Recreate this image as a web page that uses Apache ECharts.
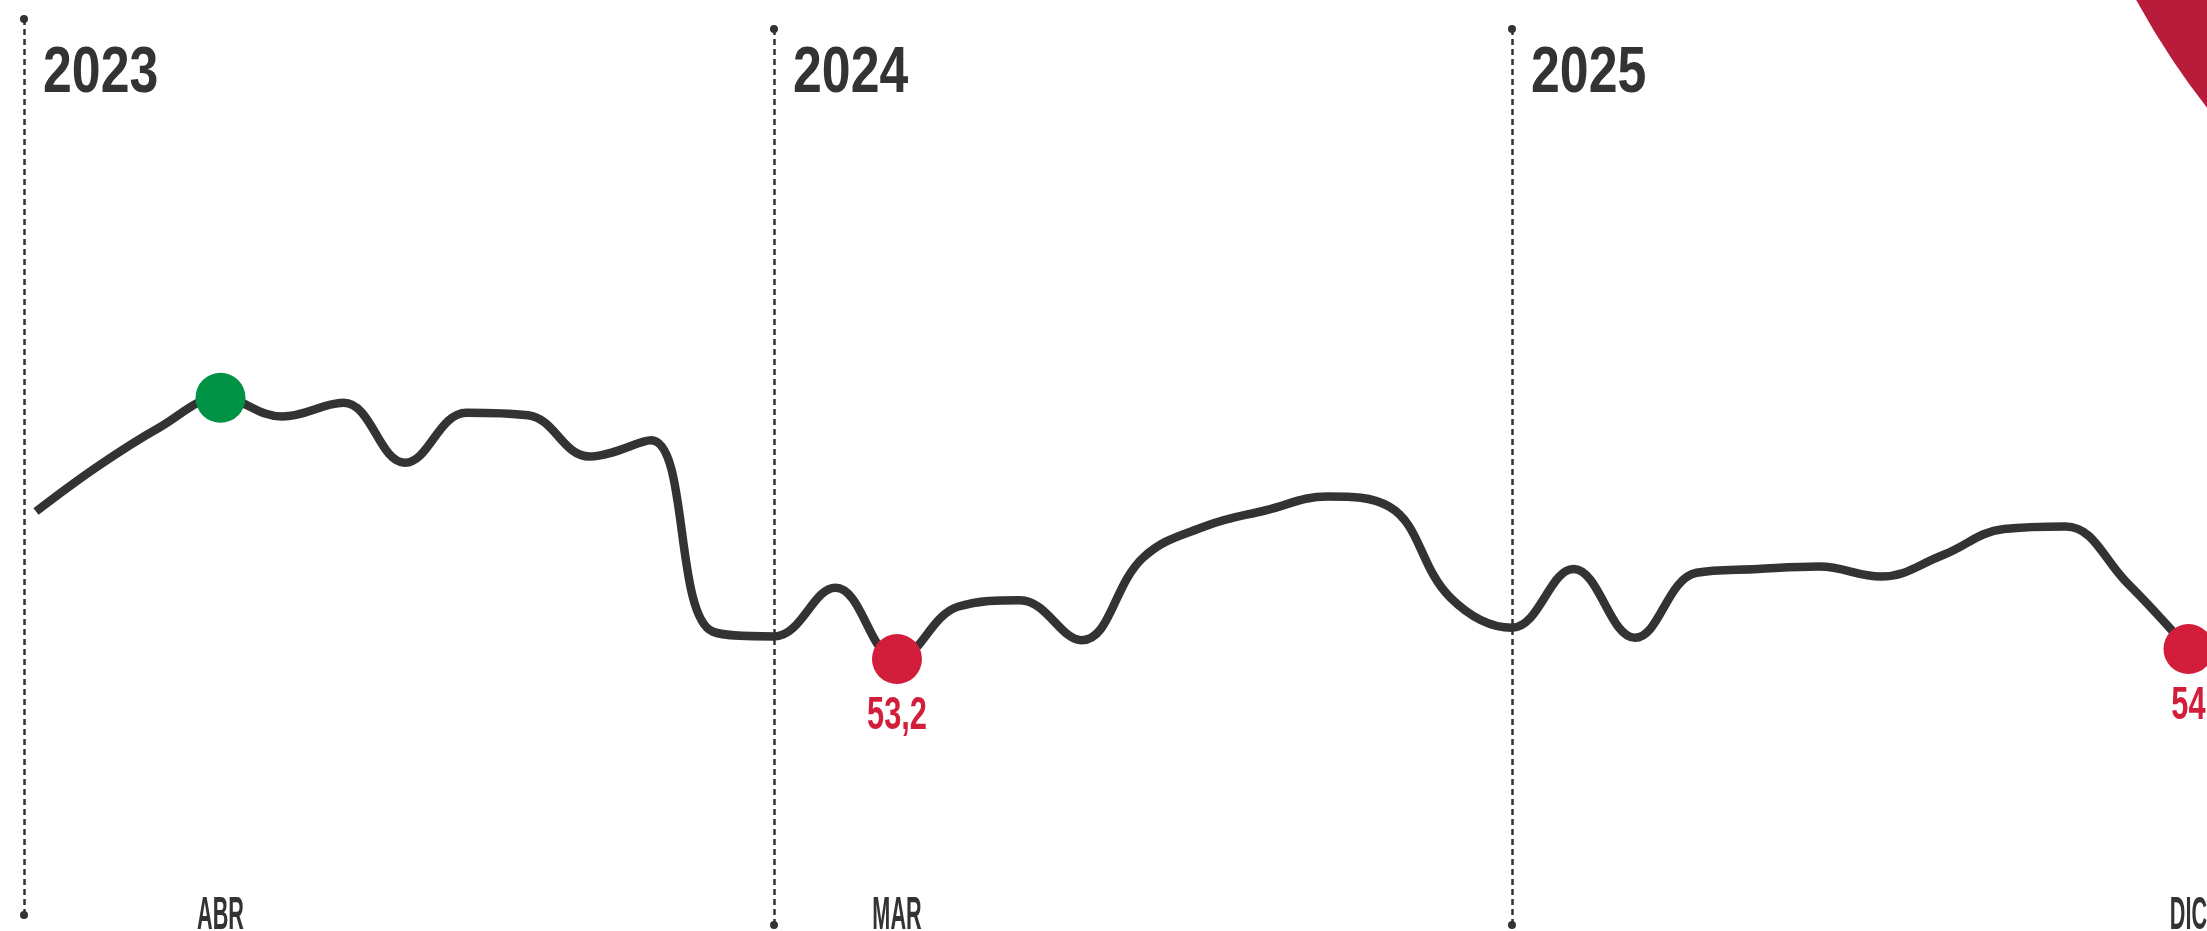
<!DOCTYPE html>
<html>
<head>
<meta charset="utf-8">
<script src="https://cdn.jsdelivr.net/npm/echarts@6/dist/echarts.min.js"></script>
<style>
html,body{margin:0;padding:0;background:#ffffff;}
#chart{width:2207px;height:931px;}
</style>
</head>
<body>
<div id="chart"></div>
<script>
// ---- data ----
const months = ['ENE','FEB','MAR','ABR','MAY','JUN','JUL','AGO','SEP','OCT','NOV','DIC',
                'ENE','FEB','MAR','ABR','MAY','JUN','JUL','AGO','SEP','OCT','NOV','DIC',
                'ENE','FEB','MAR','ABR','MAY','JUN','JUL','AGO','SEP','OCT','NOV','DIC'];
const values = [65.0, 68.6, 71.7, 74.1, 72.6, 73.7, 68.9, 72.9, 72.7, 69.4, 70.7, 55.4,
                55.0, 58.9, 53.2, 57.4, 57.9, 54.7, 61.3, 63.8, 65.1, 66.2, 65.4, 58.1,
                55.7, 60.4, 54.9, 60.1, 60.4, 60.6, 59.8, 61.5, 63.6, 63.8, 59.3, 54.0];
const years = ['2023', '2024', '2025'];
const yearStart = [-0.195, 12, 24];          // month index of each year's divider
const shownMonths = [3, 14, 35];              // month ticks that carry a label

// ---- derived ----
const maxIdx = values.indexOf(Math.max(...values));
const minIdx = values.indexOf(Math.min(...values));
const lastIdx = values.length - 1;
const FONT = "'Liberation Sans', Arial, sans-serif";
const DARK = '#333333';
const RED = '#D21E3A';
const GREEN = '#009345';

function fmt(v) {
  return Number.isInteger(v) ? String(v) : v.toFixed(1).replace('.', ',');
}

const lineData = values.map((v, i) => {
  if (i === maxIdx || i === minIdx || i === lastIdx) {
    return {
      value: [i, v],
      symbol: 'circle',
      symbolSize: 50,
      itemStyle: { color: i === maxIdx ? GREEN : RED }
    };
  }
  return { value: [i, v], symbol: 'none' };
});

// text marks: year headings, month ticks, value call-outs
const textItems = []
  .concat(years.map((y, i) => ({ kind: 'year', x: yearStart[i], v: 0, text: y })))
  .concat(shownMonths.map(i => ({ kind: 'month', x: i, v: 0, text: months[i] })))
  .concat([minIdx, lastIdx].map(i => ({ kind: 'value', x: i, v: values[i], text: fmt(values[i]) })));

const TXT = {
  year:  { size: 64, sx: 0.81, color: DARK, align: 'left' },
  month: { size: 46, sx: 0.47, color: DARK, align: 'center' },
  value: { size: 46, sx: 0.67, color: RED,  align: 'center' }
};

// vertical extent of the year dividers (value units)
const divTop = [104.4, 103.6, 103.6];
const divBottom = [32.72, 31.92, 31.92];

const chart = echarts.init(document.getElementById('chart'), null, { renderer: 'canvas' });
chart.setOption({
  animation: false,
  backgroundColor: '#ffffff',
  grid: { left: 5.25, right: 3.15, top: 0, bottom: 0 },
  xAxis: {
    type: 'value',
    min: -0.5,
    max: 35.25,
    axisLine: { show: false },
    axisTick: { show: false },
    splitLine: { show: false },
    axisLabel: { show: false }
  },
  yAxis: {
    type: 'value',
    min: 31.44,
    max: 105.92,
    show: false,
    splitLine: { show: false }
  },
  graphic: [{
    type: 'circle',
    silent: true,
    z: -10,
    shape: { cx: 2838, cy: -384, r: 800 },
    style: { fill: '#B81C3A' }
  }],
  series: [{
    type: 'line',
    data: lineData,
    smooth: 0.4,
    showAllSymbol: true,
    clip: false,
    lineStyle: { color: DARK, width: 8.5, cap: 'butt', join: 'round' },
    emphasis: { disabled: true },
    z: 3,
    markLine: {
      silent: true,
      symbol: ['circle', 'circle'],
      symbolSize: 8,
      label: { show: false },
      emphasis: { disabled: true },
      lineStyle: { color: DARK, width: 2.5, type: [6, 4] },
      data: yearStart.map((x, i) => [
        { coord: [x, divTop[i]] },
        { coord: [x, divBottom[i]] }
      ])
    }
  }, {
    type: 'custom',
    clip: false,
    silent: true,
    z: 5,
    data: textItems.map(t => [t.x, t.v]),
    renderItem: (params, api) => {
      const t = textItems[params.dataIndex];
      const cs = params.coordSys;
      const s = TXT[t.kind];
      const p = api.coord([api.value(0), t.kind === 'value' ? api.value(1) : 60]);
      let x = p[0], y;
      if (t.kind === 'year') { x += 19; y = cs.y + 74; }
      else if (t.kind === 'month') { y = cs.y + cs.height - 14.5; }
      else { y = p[1] + 57.5; }
      return {
        type: 'text',
        x: x, y: y,
        scaleX: s.sx,
        style: {
          text: t.text,
          fill: s.color,
          font: 'bold ' + s.size + 'px ' + FONT,
          align: s.align,
          verticalAlign: 'middle'
        }
      };
    }
  }]
});
</script>
</body>
</html>
